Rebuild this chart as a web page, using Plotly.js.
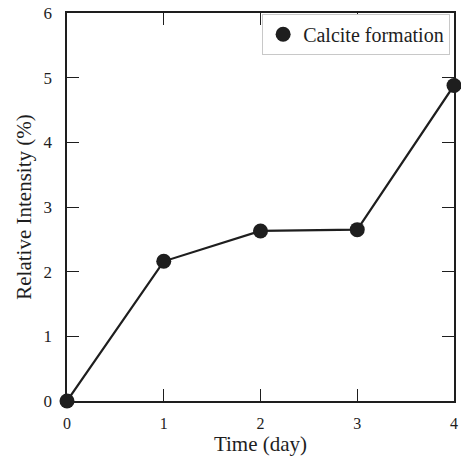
<!DOCTYPE html>
<html>
<head>
<meta charset="utf-8">
<script src="https://cdn.plot.ly/plotly-3.0.1.min.js"></script>
<style>html,body{margin:0;padding:0;background:#fff;}#chart{width:461px;height:456px;}</style>
</head>
<body>
<div id="chart"></div>
<script>
var days = [0, 1, 2, 3, 4];
var intensity = [0, 2.16, 2.63, 2.65, 4.88];
var seriesName = "Calcite formation";
var xTicks = [0, 1, 2, 3, 4];
var yTicks = [0, 1, 2, 3, 4, 5, 6];

var font = "Liberation Serif";
var ink = "#1e1e1e";

var trace = {
  x: days, y: intensity, name: seriesName,
  type: "scatter", mode: "lines+markers",
  line: {color: ink, width: 2.2},
  marker: {color: ink, size: 15},
  cliponaxis: false, showlegend: false
};
var legendEntry = {
  x: [null], y: [null], name: seriesName,
  type: "scatter", mode: "markers",
  marker: {color: ink, size: 15}, showlegend: true
};

var axisCommon = {
  showgrid: false, zeroline: false, showline: true, linecolor: ink, linewidth: 1.6,
  mirror: "allticks", ticks: "inside", ticklen: 12, tickwidth: 1, tickcolor: ink,
  tickfont: {family: font, size: 17, color: ink}
};

var layout = {
  width: 461, height: 456,
  margin: {l: 67, r: 7, t: 13, b: 55},
  paper_bgcolor: "#fff", plot_bgcolor: "#fff",
  font: {family: font, color: ink},
  showlegend: true,
  legend: {
    x: 0.99, y: 0.998, xanchor: "right", yanchor: "top",
    bgcolor: "#fff", bordercolor: "#c8c8c8", borderwidth: 1,
    font: {family: font, size: 20, color: ink},
    itemwidth: 30, tracegroupgap: 0
  },
  xaxis: Object.assign({}, axisCommon, {
    range: [0, 4], tickvals: xTicks, ticktext: xTicks.map(String),
    ticklabelstandoff: 7,
    tickfont: {family: font, size: 16, color: ink},
    title: {text: "Time (day)", font: {family: font, size: 21, color: ink}, standoff: 6}
  }),
  yaxis: Object.assign({}, axisCommon, {
    range: [0, 6], tickvals: yTicks, ticktext: yTicks.map(String),
    ticklabelstandoff: 10,
    title: {text: "Relative Intensity (%)", font: {family: font, size: 21, color: ink}, standoff: 6}
  })
};

Plotly.newPlot("chart", [trace, legendEntry], layout, {displayModeBar: false, staticPlot: true});
</script>
</body>
</html>
